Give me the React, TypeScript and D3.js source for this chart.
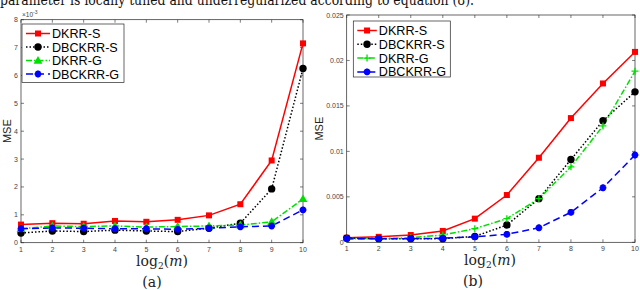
import { useEffect, useRef } from "react";
import * as d3 from "d3";

const xs = [1, 2, 3, 4, 5, 6, 7, 8, 9, 10];

// panel (a), units of 1e-3
const aDkrrS = [0.65, 0.7, 0.68, 0.78, 0.75, 0.82, 0.98, 1.38, 2.95, 7.15];
const aDbcS = [0.35, 0.42, 0.4, 0.45, 0.42, 0.4, 0.52, 0.7, 1.93, 6.25];
const aDkrrG = [0.5, 0.6, 0.58, 0.6, 0.56, 0.58, 0.6, 0.63, 0.75, 1.57];
const aDbcG = [0.5, 0.53, 0.52, 0.5, 0.5, 0.48, 0.52, 0.57, 0.6, 1.18];

// panel (b)
const bDkrrS = [0.0005, 0.0006, 0.0008, 0.00125, 0.0026, 0.0052, 0.0093, 0.01366, 0.01747, 0.02094];
const bDbcS = [0.00045, 0.0004, 0.0004, 0.0004, 0.00065, 0.0019, 0.0048, 0.0091, 0.01337, 0.01655];
const bDkrrG = [0.0004, 0.0004, 0.0005, 0.0008, 0.0015, 0.0026, 0.0048, 0.0083, 0.0128, 0.01882];
const bDbcG = [0.0004, 0.0004, 0.0004, 0.00045, 0.0006, 0.00088, 0.0016, 0.0033, 0.006, 0.0096];

const names = ["DKRR-S", "DBCKRR-S", "DKRR-G", "DBCKRR-G"];
const colors = ["#ff0000", "#000000", "#00e000", "#0000ff"];
const dashes = ["none", "1.5,2", "6,2,1.5,2", "7,4"];

const aTicksY = [0, 1, 2, 3, 4, 5, 6, 7, 8];
const bTicksY = [0, 0.005, 0.01, 0.015, 0.02, 0.025];

const SANS = "'Liberation Sans', Arial, sans-serif";
const SERIF = "'DejaVu Serif', 'Liberation Serif', serif";

type G = d3.Selection<SVGGElement, unknown, null, undefined>;

function marker(g: G, kind: string, cx: number, cy: number, color: string) {
  if (kind === "square") {
    g.append("rect").attr("x", cx - 3).attr("y", cy - 3).attr("width", 6).attr("height", 6).attr("fill", color);
  } else if (kind === "circle") {
    g.append("circle").attr("cx", cx).attr("cy", cy).attr("r", 3.7).attr("fill", color);
  } else if (kind === "triangle") {
    g.append("path")
      .attr("d", d3.symbol(d3.symbolTriangle, 34)())
      .attr("transform", `translate(${cx},${cy + 0.6})`)
      .attr("fill", color);
  } else if (kind === "plus") {
    g.append("path")
      .attr("d", `M${cx - 3.5},${cy}H${cx + 3.5}M${cx},${cy - 3.5}V${cy + 3.5}`)
      .attr("stroke", color).attr("stroke-width", 1.3);
  } else {
    // asterisk
    const r = 3.4;
    let d = "";
    for (let i = 0; i < 4; i++) {
      const a = (i * Math.PI) / 4;
      d += `M${cx - r * Math.cos(a)},${cy - r * Math.sin(a)}L${cx + r * Math.cos(a)},${cy + r * Math.sin(a)}`;
    }
    g.append("path").attr("d", d).attr("stroke", color).attr("stroke-width", 2.2);
  }
}

function panel(
  svg: d3.Selection<SVGSVGElement, unknown, null, undefined>,
  opts: {
    xr: [number, number];
    yr: [number, number];
    ymax: number;
    ticksY: number[];
    fmt: (v: number) => string;
    series: number[][];
    markers: string[];
    legend: { x: number; y: number; w: number; h: number; step: number; tx: number };
    mseX: number;
    sub: string;
    subX: number;
    labX: number;
    exp?: boolean;
  }
) {
  const x = d3.scaleLinear().domain([1, 10]).range(opts.xr);
  const y = d3.scaleLinear().domain([0, opts.ymax]).range(opts.yr);
  const g = svg.append("g");
  const [x0, x1] = opts.xr;
  const [yb, yt] = opts.yr;

  g.append("rect").attr("x", x0).attr("y", yt).attr("width", x1 - x0).attr("height", yb - yt)
    .attr("fill", "white").attr("stroke", "#262626").attr("stroke-width", 0.7);

  // ticks
  xs.forEach(v => {
    g.append("line").attr("x1", x(v)).attr("x2", x(v)).attr("y1", yb).attr("y2", yb - 3).attr("stroke", "#262626").attr("stroke-width", 0.6);
    g.append("line").attr("x1", x(v)).attr("x2", x(v)).attr("y1", yt).attr("y2", yt + 3).attr("stroke", "#262626").attr("stroke-width", 0.6);
    g.append("text").attr("x", x(v)).attr("y", yb + 9).attr("text-anchor", "middle")
      .attr("font-family", SANS).attr("font-size", 7).attr("fill", "#444").text(v);
  });
  opts.ticksY.forEach(v => {
    g.append("line").attr("x1", x0).attr("x2", x0 + 3).attr("y1", y(v)).attr("y2", y(v)).attr("stroke", "#262626").attr("stroke-width", 0.6);
    g.append("line").attr("x1", x1).attr("x2", x1 - 3).attr("y1", y(v)).attr("y2", y(v)).attr("stroke", "#262626").attr("stroke-width", 0.6);
    g.append("text").attr("x", x0 - 3).attr("y", y(v) + 2.5).attr("text-anchor", "end")
      .attr("font-family", SANS).attr("font-size", 7).attr("fill", "#444").text(opts.fmt(v));
  });
  if (opts.exp) {
    const t = g.append("text").attr("x", x0 + 1).attr("y", yt - 3)
      .attr("font-family", SANS).attr("font-size", 6.5).attr("fill", "#444");
    t.append("tspan").text("\u00d710");
    t.append("tspan").attr("dy", -3).attr("font-size", 5).text("-3");
  }

  // lines
  opts.series.forEach((s, i) => {
    const line = d3.line<number>().x((_, j) => x(xs[j])).y(d => y(d));
    g.append("path").datum(s).attr("d", line).attr("fill", "none")
      .attr("stroke", colors[i]).attr("stroke-width", 1.5)
      .attr("stroke-dasharray", dashes[i]);
  });
  opts.series.forEach((s, i) => {
    s.forEach((v, j) => marker(g, opts.markers[i], x(xs[j]), y(v), colors[i]));
  });

  // legend
  const L = opts.legend;
  g.append("rect").attr("x", L.x).attr("y", L.y).attr("width", L.w).attr("height", L.h)
    .attr("fill", "white").attr("stroke", "#262626").attr("stroke-width", 0.7);
  names.forEach((n, i) => {
    const ly = L.y + 9.5 + i * L.step;
    g.append("line").attr("x1", L.x + 4).attr("x2", L.x + L.tx - 2).attr("y1", ly).attr("y2", ly)
      .attr("stroke", colors[i]).attr("stroke-width", 1.5).attr("stroke-dasharray", dashes[i]);
    marker(g, opts.markers[i], L.x + (L.tx + 2) / 2, ly, colors[i]);
    g.append("text").attr("x", L.x + L.tx).attr("y", ly + 4.5)
      .attr("font-family", SANS).attr("font-size", 12.6).attr("fill", "#000").text(n);
  });

  g.append("text").attr("transform", `translate(${opts.mseX},${(yb + yt) / 2}) rotate(-90)`)
    .attr("text-anchor", "middle").attr("font-family", SANS).attr("font-size", 11).attr("fill", "#222").text("MSE");

  const xl = g.append("text").attr("x", opts.labX).attr("y", yb + 23).attr("text-anchor", "middle")
    .attr("font-family", SERIF).attr("font-size", 14).attr("fill", "#222");
  xl.append("tspan").text("log");
  xl.append("tspan").attr("dy", 3).attr("font-size", 9).text("2");
  xl.append("tspan").attr("dy", -3).text("(");
  xl.append("tspan").attr("font-style", "italic").text("m");
  xl.append("tspan").text(")");

  g.append("text").attr("x", opts.subX).attr("y", yb + 44).attr("text-anchor", "middle")
    .attr("font-family", SERIF).attr("font-size", 14).attr("fill", "#222").text(opts.sub);
}

export default function App() {
  const ref = useRef<SVGSVGElement | null>(null);

  useEffect(() => {
    if (!ref.current) return;
    const svg = d3.select(ref.current);
    svg.selectAll("*").remove();
    svg.append("rect").attr("width", 640).attr("height", 290).attr("fill", "white");

    // caption line from the page above, partly cut at the top edge as in the source
    svg.append("text").attr("x", 0).attr("y", 5)
      .attr("font-family", SERIF).attr("font-size", 14).attr("fill", "#111")
      .attr("textLength", 474).attr("lengthAdjust", "spacingAndGlyphs")
      .text("parameter is locally tuned and underregularized according to equation (8).");

    panel(svg, {
      xr: [21, 303], yr: [242.7, 19.7], ymax: 8, ticksY: aTicksY,
      fmt: v => String(v),
      series: [aDkrrS, aDbcS, aDkrrG, aDbcG],
      markers: ["square", "circle", "triangle", "asterisk"],
      legend: { x: 22, y: 24, w: 102, h: 58.5, step: 13.5, tx: 30 },
      mseX: 11, sub: "(a)", subX: 152, labX: 162, exp: true,
    });
    panel(svg, {
      xr: [346.7, 635], yr: [242.3, 15], ymax: 0.025, ticksY: bTicksY,
      fmt: v => (v === 0 ? "0" : String(+v.toFixed(3))),
      series: [bDkrrS, bDbcS, bDkrrG, bDbcG],
      markers: ["square", "circle", "plus", "asterisk"],
      legend: { x: 353.3, y: 21, w: 97, h: 56, step: 13.8, tx: 25.5 },
      mseX: 323, sub: "(b)", subX: 473, labX: 490,
    });
  }, []);

  return (
    <svg ref={ref} width={640} height={290}
      style={{ position: "absolute", left: 0, top: 0, display: "block" }} />
  );
}
